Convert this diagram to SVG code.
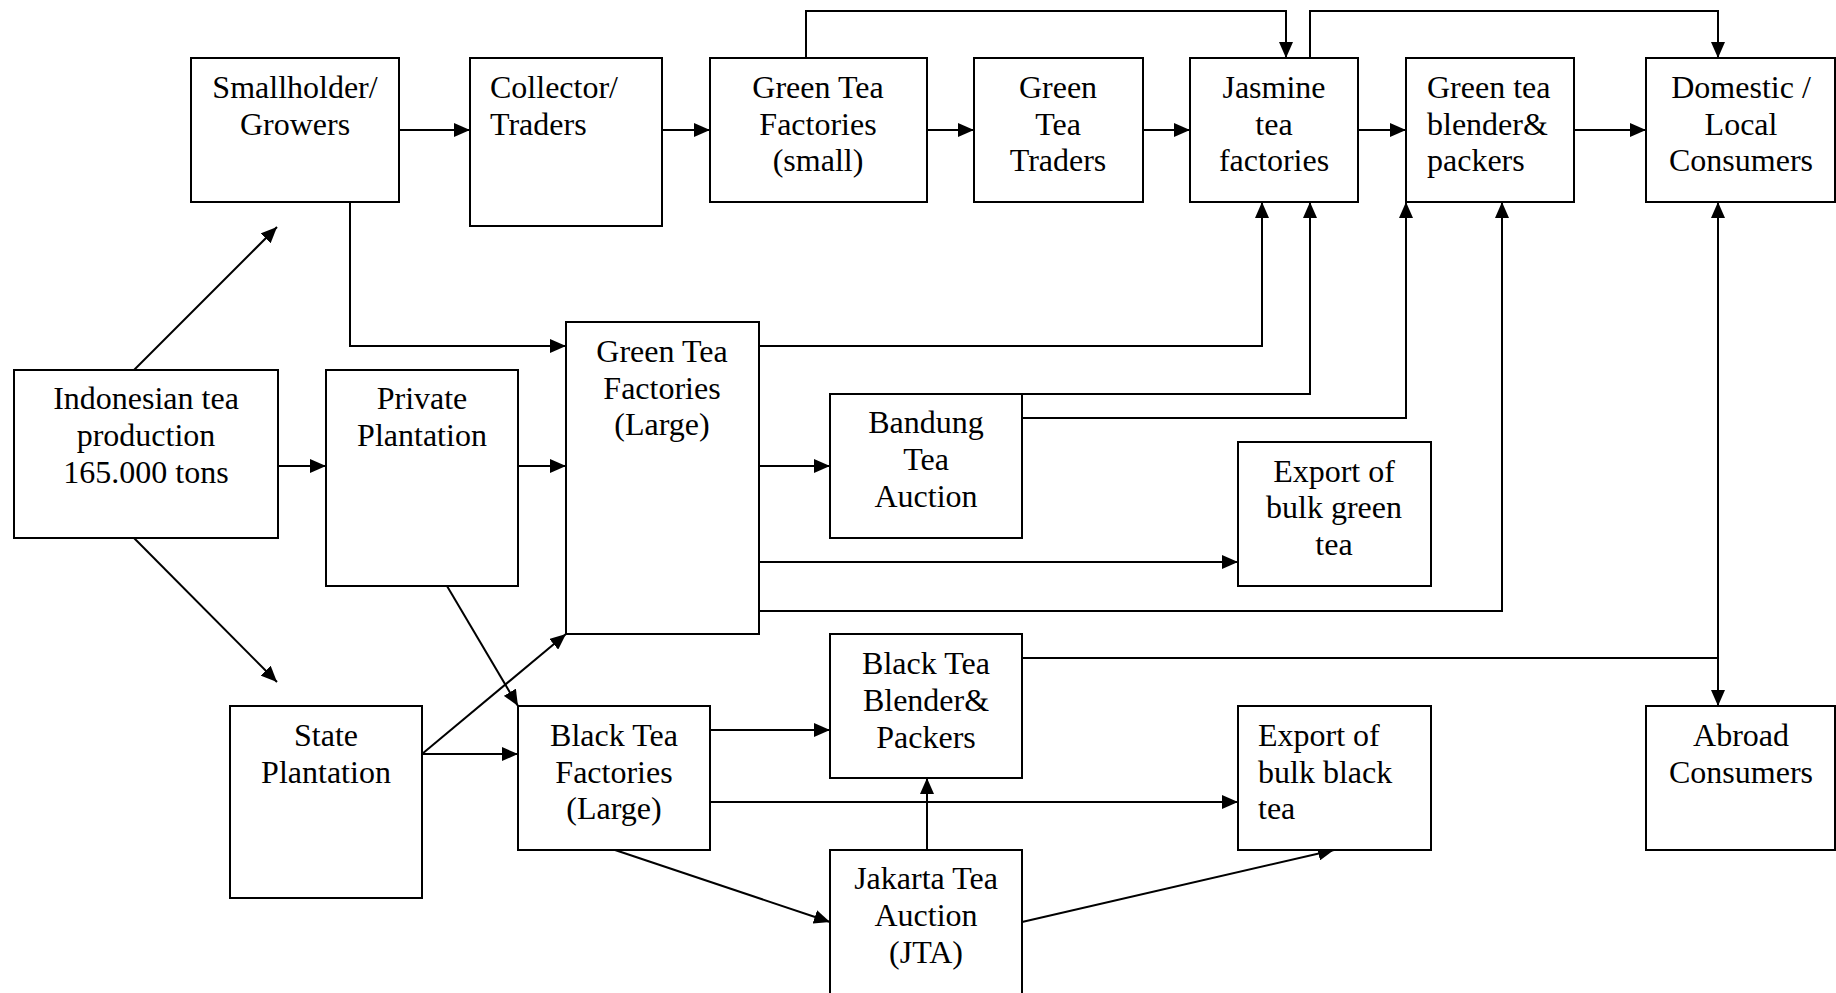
<svg xmlns="http://www.w3.org/2000/svg" width="1836" height="993" viewBox="0 0 1836 993">
<style>
rect.box{fill:#fff;stroke:#000;stroke-width:2}
text{font-family:"Liberation Serif","Times New Roman",serif;font-size:32px;fill:#000}
.c{text-anchor:middle}
.l{text-anchor:start}
.edge{fill:none;stroke:#000;stroke-width:2}
</style>
<defs>
<marker id="ah" markerUnits="userSpaceOnUse" markerWidth="16" markerHeight="14" refX="16" refY="7" orient="auto">
<path d="M0,0 L16,7 L0,14 z" fill="#000"/>
</marker>
<marker id="ahs" markerUnits="userSpaceOnUse" markerWidth="16" markerHeight="14" refX="16" refY="7" orient="auto-start-reverse">
<path d="M0,0 L16,7 L0,14 z" fill="#000"/>
</marker>
</defs>
<rect width="1836" height="993" fill="#fff"/>
<g id="connectors">
<path class="edge" marker-end="url(#ah)" d="M399,130 H470"/>
<path class="edge" marker-end="url(#ah)" d="M662,130 H710"/>
<path class="edge" marker-end="url(#ah)" d="M927,130 H974"/>
<path class="edge" marker-end="url(#ah)" d="M1143,130 H1190"/>
<path class="edge" marker-end="url(#ah)" d="M1358,130 H1406"/>
<path class="edge" marker-end="url(#ah)" d="M1574,130 H1646"/>
<path class="edge" marker-end="url(#ah)" d="M806,58 V11 H1286 V58"/>
<path class="edge" marker-end="url(#ah)" d="M1310,58 V11 H1718 V58"/>
<path class="edge" marker-end="url(#ah)" d="M134,370 L277,227"/>
<path class="edge" marker-end="url(#ah)" d="M278,466 H326"/>
<path class="edge" marker-end="url(#ah)" d="M134,538 L277,682"/>
<path class="edge" marker-end="url(#ah)" d="M350,202 V346 H566"/>
<path class="edge" marker-end="url(#ah)" d="M518,466 H566"/>
<path class="edge" marker-end="url(#ah)" d="M447,586 L518,706"/>
<path class="edge" marker-end="url(#ah)" d="M422,754 L566,634"/>
<path class="edge" marker-end="url(#ah)" d="M422,754 H518"/>
<path class="edge" marker-end="url(#ah)" d="M759,346 H1262 V202"/>
<path class="edge" marker-end="url(#ah)" d="M759,466 H830"/>
<path class="edge" marker-end="url(#ah)" d="M1022,394 H1310 V202"/>
<path class="edge" marker-end="url(#ah)" d="M1022,418 H1406 V202"/>
<path class="edge" marker-end="url(#ah)" d="M759,562 H1238"/>
<path class="edge" marker-end="url(#ah)" d="M759,611 H1502 V202"/>
<path class="edge" marker-end="url(#ah)" d="M710,730 H830"/>
<path class="edge" marker-end="url(#ah)" d="M710,802 H1238"/>
<path class="edge" marker-end="url(#ah)" d="M615,850 L830,922"/>
<path class="edge" marker-end="url(#ah)" d="M927,850 V778"/>
<path class="edge" marker-end="url(#ah)" d="M1022,922 L1334,850"/>
<path class="edge" d="M1022,658 H1718"/>
<path class="edge" marker-start="url(#ahs)" marker-end="url(#ah)" d="M1718,202 V706"/>
</g>
<g id="smallholder"><rect class="box" x="191" y="58" width="208" height="144"/><text class="c" x="295" y="98">Smallholder/</text><text class="c" x="295" y="135">Growers</text></g>
<g id="collector"><rect class="box" x="470" y="58" width="192" height="168"/><text class="l" x="490" y="98">Collector/</text><text class="l" x="490" y="135">Traders</text></g>
<g id="gtf-small"><rect class="box" x="710" y="58" width="217" height="144"/><text class="c" x="818" y="98">Green Tea</text><text class="c" x="818" y="135">Factories</text><text class="c" x="818" y="171">(small)</text></g>
<g id="gt-traders"><rect class="box" x="974" y="58" width="169" height="144"/><text class="c" x="1058" y="98">Green</text><text class="c" x="1058" y="135">Tea</text><text class="c" x="1058" y="171">Traders</text></g>
<g id="jasmine"><rect class="box" x="1190" y="58" width="168" height="144"/><text class="c" x="1274" y="98">Jasmine</text><text class="c" x="1274" y="135">tea</text><text class="c" x="1274" y="171">factories</text></g>
<g id="gt-blender"><rect class="box" x="1406" y="58" width="168" height="144"/><text class="l" x="1427" y="98">Green tea</text><text class="l" x="1427" y="135">blender&amp;</text><text class="l" x="1427" y="171">packers</text></g>
<g id="domestic"><rect class="box" x="1646" y="58" width="189" height="144"/><text class="c" x="1741" y="98">Domestic /</text><text class="c" x="1741" y="135">Local</text><text class="c" x="1741" y="171">Consumers</text></g>
<g id="indonesian"><rect class="box" x="14" y="370" width="264" height="168"/><text class="c" x="146" y="409">Indonesian tea</text><text class="c" x="146" y="446">production</text><text class="c" x="146" y="483">165.000 tons</text></g>
<g id="private"><rect class="box" x="326" y="370" width="192" height="216"/><text class="c" x="422" y="409">Private</text><text class="c" x="422" y="446">Plantation</text></g>
<g id="gtf-large"><rect class="box" x="566" y="322" width="193" height="312"/><text class="c" x="662" y="362">Green Tea</text><text class="c" x="662" y="399">Factories</text><text class="c" x="662" y="435">(Large)</text></g>
<g id="bandung"><rect class="box" x="830" y="394" width="192" height="144"/><text class="c" x="926" y="433">Bandung</text><text class="c" x="926" y="470">Tea</text><text class="c" x="926" y="507">Auction</text></g>
<g id="export-green"><rect class="box" x="1238" y="442" width="193" height="144"/><text class="c" x="1334" y="482">Export of</text><text class="c" x="1334" y="518">bulk green</text><text class="c" x="1334" y="555">tea</text></g>
<g id="state"><rect class="box" x="230" y="706" width="192" height="192"/><text class="c" x="326" y="746">State</text><text class="c" x="326" y="783">Plantation</text></g>
<g id="btf"><rect class="box" x="518" y="706" width="192" height="144"/><text class="c" x="614" y="746">Black Tea</text><text class="c" x="614" y="783">Factories</text><text class="c" x="614" y="819">(Large)</text></g>
<g id="btb"><rect class="box" x="830" y="634" width="192" height="144"/><text class="c" x="926" y="674">Black Tea</text><text class="c" x="926" y="711">Blender&amp;</text><text class="c" x="926" y="748">Packers</text></g>
<g id="export-black"><rect class="box" x="1238" y="706" width="193" height="144"/><text class="l" x="1258" y="746">Export of</text><text class="l" x="1258" y="783">bulk black</text><text class="l" x="1258" y="819">tea</text></g>
<g id="jta"><rect class="box" x="830" y="850" width="192" height="150"/><text class="c" x="926" y="889">Jakarta Tea</text><text class="c" x="926" y="926">Auction</text><text class="c" x="926" y="963">(JTA)</text></g>
<g id="abroad"><rect class="box" x="1646" y="706" width="189" height="144"/><text class="c" x="1741" y="746">Abroad</text><text class="c" x="1741" y="783">Consumers</text></g>
</svg>
